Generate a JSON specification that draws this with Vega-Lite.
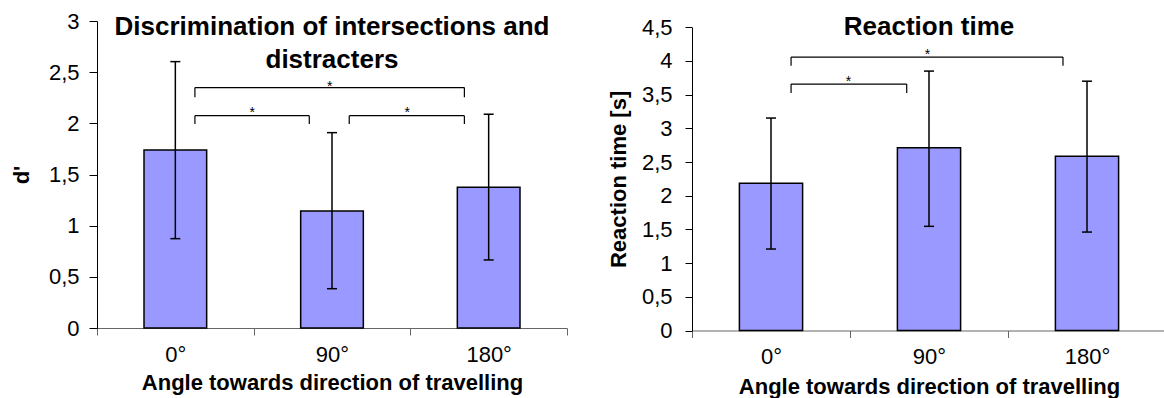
{
  "$schema": "https://vega.github.io/schema/vega-lite/v6.json",
  "background": "white",
  "padding": {"left": 10, "top": 10, "right": 0, "bottom": 0},
  "spacing": 39,
  "datasets": {
    "dprime": [
      {"angle": "0°", "mean": 1.74, "lo": 0.873, "hi": 2.603},
      {"angle": "90°", "mean": 1.143, "lo": 0.384, "hi": 1.909},
      {"angle": "180°", "mean": 1.375, "lo": 0.665, "hi": 2.089}
    ],
    "rt": [
      {"angle": "0°", "mean": 2.184, "lo": 1.209, "hi": 3.153},
      {"angle": "90°", "mean": 2.712, "lo": 1.546, "hi": 3.85},
      {"angle": "180°", "mean": 2.585, "lo": 1.461, "hi": 3.7}
    ],
    "dsig": [
      {"x": 0.625, "x2": 2.345, "y": 2.349, "y2": 2.349},
      {"x": 0.625, "x2": 0.625, "y": 2.255, "y2": 2.349},
      {"x": 2.345, "x2": 2.345, "y": 2.255, "y2": 2.349},
      {"x": 0.625, "x2": 1.355, "y": 2.075, "y2": 2.075},
      {"x": 0.625, "x2": 0.625, "y": 1.994, "y2": 2.075},
      {"x": 1.355, "x2": 1.355, "y": 1.994, "y2": 2.075},
      {"x": 1.61, "x2": 2.345, "y": 2.075, "y2": 2.075},
      {"x": 1.61, "x2": 1.61, "y": 1.994, "y2": 2.075},
      {"x": 2.345, "x2": 2.345, "y": 1.994, "y2": 2.075}
    ],
    "dstar": [
      {"x": 1.485, "y": 2.32, "label": "*"},
      {"x": 0.99, "y": 2.059, "label": "*"},
      {"x": 1.98, "y": 2.059, "label": "*"}
    ],
    "rtsig": [
      {"x": 0.627, "x2": 2.348, "y": 4.058, "y2": 4.058},
      {"x": 0.627, "x2": 0.627, "y": 3.929, "y2": 4.058},
      {"x": 2.348, "x2": 2.348, "y": 3.929, "y2": 4.058},
      {"x": 0.627, "x2": 1.359, "y": 3.657, "y2": 3.657},
      {"x": 0.627, "x2": 0.627, "y": 3.524, "y2": 3.657},
      {"x": 1.359, "x2": 1.359, "y": 3.524, "y2": 3.657}
    ],
    "rtstar": [
      {"x": 1.49, "y": 4.031, "label": "*"},
      {"x": 0.99, "y": 3.626, "label": "*"}
    ]
  },
  "hconcat": [
    {
      "width": 470,
      "height": 307,
      "title": {"text": ["Discrimination of intersections and", "distracters"], "lineHeight": 33, "baseline": "alphabetic", "offset": -84, "anchor": "middle"},
      "layer": [
        {
          "data": {"name": "dprime"},
          "layer": [
            {
              "mark": {"type": "bar", "fill": "#9999FF", "stroke": "#000", "strokeWidth": 1.5, "width": {"band": 0.4}},
              "encoding": {
                "x": {"field": "angle", "type": "nominal", "sort": null,
                  "scale": {"paddingInner": 0, "paddingOuter": 0},
                  "axis": {"title": "Angle towards direction of travelling", "labelAngle": 0, "tickBand": "extent", "tickSize": 7, "labelPadding": 26, "labelBaseline": "alphabetic", "titleY": 61.7, "titleBaseline": "alphabetic", "domainColor": "#666", "tickColor": "#666"}},
                "y": {"field": "mean", "type": "quantitative",
                  "scale": {"domain": [0, 3], "nice": false},
                  "axis": {"title": "d'", "values": [0, 0.5, 1, 1.5, 2, 2.5, 3], "tickCount": 7, "labelOverlap": false, "labelExpr": "replace(format(datum.value, '~g'), '.', ',')", "tickSize": 8, "labelPadding": 10, "titleX": -68.7, "titleY": 153.5, "titleBaseline": "alphabetic", "titleAngle": -90}}
              }
            },
            {
              "mark": {"type": "rule", "stroke": "#000", "strokeWidth": 1.5},
              "encoding": {
                "x": {"field": "angle", "type": "nominal", "sort": null},
                "y": {"field": "lo", "type": "quantitative"},
                "y2": {"field": "hi"}
              }
            },
            {
              "mark": {"type": "tick", "color": "#000", "size": 10, "thickness": 1.5, "orient": "horizontal", "opacity": 1},
              "encoding": {
                "x": {"field": "angle", "type": "nominal", "sort": null},
                "y": {"field": "lo", "type": "quantitative"}
              }
            },
            {
              "mark": {"type": "tick", "color": "#000", "size": 10, "thickness": 1.5, "orient": "horizontal", "opacity": 1},
              "encoding": {
                "x": {"field": "angle", "type": "nominal", "sort": null},
                "y": {"field": "hi", "type": "quantitative"}
              }
            }
          ]
        },
        {
          "layer": [
            {
              "data": {"name": "dsig"},
              "mark": {"type": "rule", "stroke": "#000", "strokeWidth": 1.2},
              "encoding": {
                "x": {"field": "x", "type": "quantitative", "scale": {"domain": [0, 3], "nice": false, "zero": false}, "axis": null},
                "x2": {"field": "x2"},
                "y": {"field": "y", "type": "quantitative"},
                "y2": {"field": "y2"}
              }
            },
            {
              "data": {"name": "dstar"},
              "mark": {"type": "text", "fontSize": 14, "baseline": "alphabetic", "align": "center", "color": "#000"},
              "encoding": {
                "x": {"field": "x", "type": "quantitative"},
                "y": {"field": "y", "type": "quantitative"},
                "text": {"field": "label"}
              }
            }
          ]
        }
      ],
      "resolve": {"scale": {"x": "independent"}}
    },
    {
      "width": 474,
      "height": 309.5,
      "title": {"text": "Reaction time", "baseline": "alphabetic", "offset": -44.5, "anchor": "middle"},
      "layer": [
        {
          "data": {"name": "rt"},
          "layer": [
            {
              "mark": {"type": "bar", "fill": "#9999FF", "stroke": "#000", "strokeWidth": 1.5, "width": {"band": 0.4}},
              "encoding": {
                "x": {"field": "angle", "type": "nominal", "sort": null,
                  "scale": {"paddingInner": 0, "paddingOuter": 0},
                  "axis": {"title": "Angle towards direction of travelling", "labelAngle": 0, "tickBand": "extent", "tickSize": 7, "labelPadding": 26, "labelBaseline": "alphabetic", "titleY": 63, "titleBaseline": "alphabetic", "domainColor": "#666", "tickColor": "#666"}},
                "y": {"field": "mean", "type": "quantitative",
                  "scale": {"domain": [0, 4.5], "nice": false, "range": [309.5, 6.3]},
                  "axis": {"title": "Reaction time [s]", "values": [0, 0.5, 1, 1.5, 2, 2.5, 3, 3.5, 4, 4.5], "tickCount": 10, "labelOverlap": false, "labelExpr": "replace(format(datum.value, '~g'), '.', ',')", "tickSize": 7, "labelPadding": 13, "titleX": -67, "titleY": 157.9, "titleBaseline": "alphabetic", "titleAngle": -90}}
              }
            },
            {
              "mark": {"type": "rule", "stroke": "#000", "strokeWidth": 1.5},
              "encoding": {
                "x": {"field": "angle", "type": "nominal", "sort": null},
                "y": {"field": "lo", "type": "quantitative"},
                "y2": {"field": "hi"}
              }
            },
            {
              "mark": {"type": "tick", "color": "#000", "size": 10, "thickness": 1.5, "orient": "horizontal", "opacity": 1},
              "encoding": {
                "x": {"field": "angle", "type": "nominal", "sort": null},
                "y": {"field": "lo", "type": "quantitative"}
              }
            },
            {
              "mark": {"type": "tick", "color": "#000", "size": 10, "thickness": 1.5, "orient": "horizontal", "opacity": 1},
              "encoding": {
                "x": {"field": "angle", "type": "nominal", "sort": null},
                "y": {"field": "hi", "type": "quantitative"}
              }
            }
          ]
        },
        {
          "layer": [
            {
              "data": {"name": "rtsig"},
              "mark": {"type": "rule", "stroke": "#000", "strokeWidth": 1.2},
              "encoding": {
                "x": {"field": "x", "type": "quantitative", "scale": {"domain": [0, 3], "nice": false, "zero": false}, "axis": null},
                "x2": {"field": "x2"},
                "y": {"field": "y", "type": "quantitative"},
                "y2": {"field": "y2"}
              }
            },
            {
              "data": {"name": "rtstar"},
              "mark": {"type": "text", "fontSize": 14, "baseline": "alphabetic", "align": "center", "color": "#000"},
              "encoding": {
                "x": {"field": "x", "type": "quantitative"},
                "y": {"field": "y", "type": "quantitative"},
                "text": {"field": "label"}
              }
            }
          ]
        }
      ],
      "resolve": {"scale": {"x": "independent"}}
    }
  ],
  "config": {
    "font": "Liberation Sans",
    "view": {"stroke": null},
    "axis": {"labelFont": "Liberation Sans", "labelFontSize": 22, "labelColor": "#000", "titleFont": "Liberation Sans", "titleFontSize": 22, "titleFontWeight": "bold", "titleColor": "#000", "grid": false, "domainColor": "#000", "tickColor": "#000", "domainWidth": 1, "tickWidth": 1},
    "title": {"font": "Liberation Sans", "fontSize": 26, "fontWeight": "bold", "color": "#000"}
  }
}
